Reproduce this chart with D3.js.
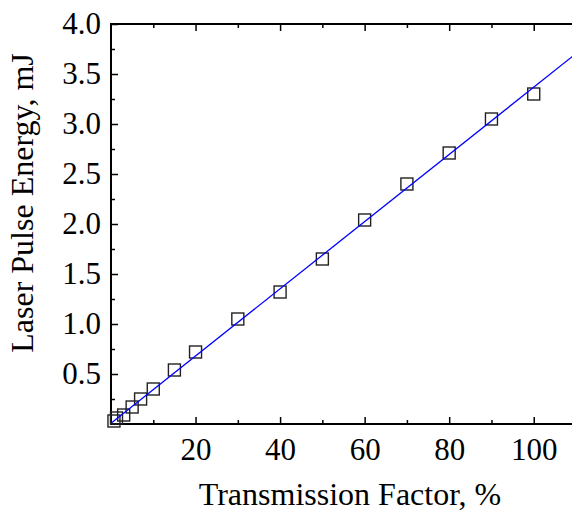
<!DOCTYPE html>
<html>
<head>
<meta charset="utf-8">
<script src="https://cdn.jsdelivr.net/npm/d3@7"></script>
<style>
  body { margin: 0; background: #fff; }
  svg { display: block; font-family: "Liberation Serif", "Times New Roman", serif; }
</style>
</head>
<body>
<svg id="chart"></svg>
<script>
// values
var transmission = [0.7, 1.3, 3, 5, 7, 10, 15, 20, 30, 40, 50, 60, 70, 80, 90, 100];
var energy = [0.03, 0.06, 0.09, 0.17, 0.25, 0.35, 0.54, 0.72, 1.05, 1.32, 1.65, 2.04, 2.40, 2.71, 3.05, 3.30];
var fitSlope = 0.0336, fitIntercept = 0.008;
var xMajor = [20, 40, 60, 80, 100];
var xMinor = [10, 30, 50, 70, 90, 110];
var yMajor = [0.5, 1.0, 1.5, 2.0, 2.5, 3.0, 3.5, 4.0];
var yMinor = [0.25, 0.75, 1.25, 1.75, 2.25, 2.75, 3.25, 3.75];

var width = 572, height = 512;
var svg = d3.select("#chart").attr("width", width).attr("height", height);

// plot area, right side runs past the picture edge
var x = d3.scaleLinear().domain([0, 110]).range([111, 576]);
var y = d3.scaleLinear().domain([0, 4]).range([424, 24]);

function styleAxis(g) {
  g.selectAll(".tick line").attr("stroke", "#000").attr("stroke-width", 1.5);
  g.selectAll(".tick text").attr("fill", "#000").attr("font-size", 31)
    .attr("font-family", "Liberation Serif, Times New Roman, serif");
  g.select(".domain").remove();
}

// minor ticks
svg.append("g").attr("transform", "translate(0,424)")
  .call(d3.axisBottom(x).tickValues(xMinor).tickSize(-4).tickFormat(""))
  .call(styleAxis);
svg.append("g").attr("transform", "translate(0,24)")
  .call(d3.axisTop(x).tickValues(xMinor).tickSize(-4).tickFormat(""))
  .call(styleAxis);
svg.append("g").attr("transform", "translate(111,0)")
  .call(d3.axisLeft(y).tickValues(yMinor).tickSize(-4).tickFormat(""))
  .call(styleAxis);

// major ticks
svg.append("g").attr("transform", "translate(0,424)")
  .call(d3.axisBottom(x).tickValues(xMajor).tickSize(-7).tickPadding(14).tickFormat(d3.format("d")))
  .call(styleAxis);
svg.append("g").attr("transform", "translate(0,24)")
  .call(d3.axisTop(x).tickValues(xMajor).tickSize(-7).tickFormat(""))
  .call(styleAxis);
svg.append("g").attr("transform", "translate(111,0)")
  .call(d3.axisLeft(y).tickValues(yMajor).tickSize(-7).tickPadding(10).tickFormat(d3.format(".1f")))
  .call(styleAxis);

// frame
svg.append("path")
  .attr("d", "M" + x(0) + "," + y(4) + "H" + width + "M" + x(0) + "," + (y(4) - 1) + "V" + (y(0) + 1) +
             "M" + (x(0) - 1) + "," + y(0) + "H" + width)
  .attr("fill", "none").attr("stroke", "#000").attr("stroke-width", 2);

// data squares
var pts = transmission.map((t, i) => ({t: t, e: energy[i]}));
svg.append("g").selectAll("rect")
  .data(pts)
  .enter()
  .append("rect")
    .attr("x", d => x(d.t) - 6)
    .attr("y", d => y(d.e) - 6)
    .attr("width", 12)
    .attr("height", 12)
    .attr("fill", "none")
    .attr("stroke", "#222")
    .attr("stroke-width", 1.4);

// linear fit
var fit = d3.line().x(d => x(d)).y(d => y(fitIntercept + fitSlope * d));
svg.append("path")
  .datum([0, 110])
  .attr("d", fit)
  .attr("fill", "none")
  .attr("stroke", "#0000ff")
  .attr("stroke-width", 1.3);

// axis titles
svg.append("text")
  .attr("x", 350).attr("y", 505)
  .attr("text-anchor", "middle")
  .attr("font-size", 32)
  .text("Transmission Factor, %");
svg.append("text")
  .attr("transform", "translate(33,203) rotate(-90)")
  .attr("text-anchor", "middle")
  .attr("font-size", 32)
  .text("Laser Pulse Energy, mJ");
</script>
</body>
</html>
